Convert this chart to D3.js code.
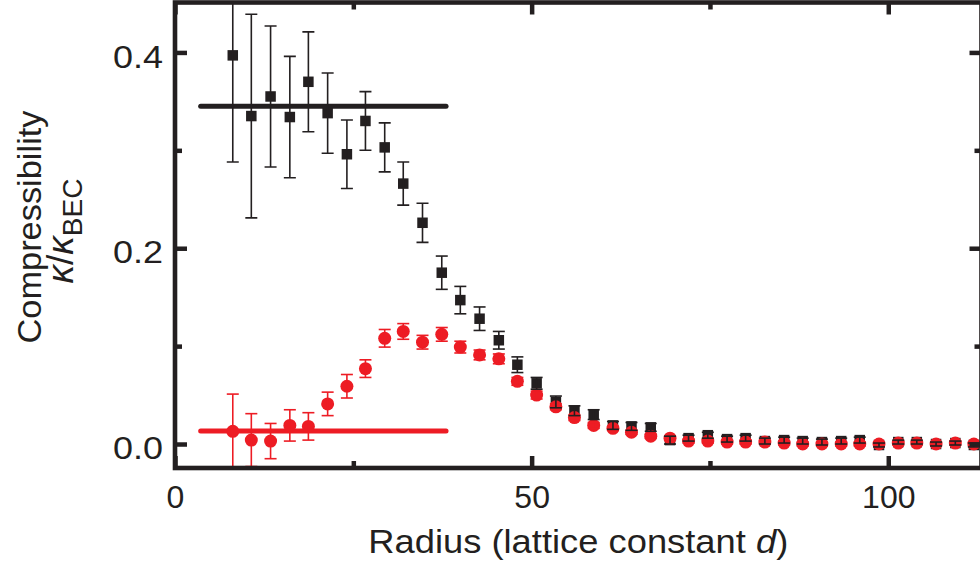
<!DOCTYPE html>
<html>
<head>
<meta charset="utf-8">
<script src="https://cdn.jsdelivr.net/npm/d3@7"></script>
<style>
  body { margin: 0; background: #fff; }
  svg { display: block; font-family: "Liberation Sans", Arial, Helvetica, sans-serif; }
</style>
</head>
<body>
<div id="chart"></div>
<script>
// radius bins (lattice constant d)
const radius = [8.1, 10.7, 13.4, 16.1, 18.7, 21.4, 24.1, 26.7, 29.4, 32.0,
    34.7, 37.4, 40.0, 42.7, 45.4, 48.0, 50.7, 53.4, 56.0, 58.7,
    61.4, 64.0, 66.7, 69.4, 72.0, 74.7, 77.4, 80.0, 82.7, 85.4,
    88.0, 90.7, 93.4, 96.0, 98.7, 101.4, 104.0, 106.7, 109.4, 112.0];

// black squares
const kappaSquare = [0.397, 0.335, 0.355, 0.334, 0.370, 0.338, 0.296, 0.330, 0.303, 0.266,
    0.226, 0.175, 0.147, 0.128, 0.106, 0.081, 0.062, 0.043, 0.034, 0.030,
    0.019, 0.018, 0.017, 0.004, 0.006, 0.009, 0.005, 0.006, 0.003, 0.004,
    0.003, 0.002, 0.003, 0.004, -0.001, 0.002, 0.002, 0.000, 0.001, -0.001];
const kappaSquareErr = [0.109, 0.104, 0.072, 0.062, 0.051, 0.041, 0.035, 0.030, 0.025, 0.022,
    0.020, 0.017, 0.014, 0.012, 0.009, 0.008, 0.006, 0.006, 0.005, 0.005,
    0.004, 0.004, 0.004, 0.004, 0.003, 0.003, 0.003, 0.003, 0.003, 0.003,
    0.003, 0.003, 0.003, 0.003, 0.002, 0.002, 0.002, 0.002, 0.002, 0.002];

// red circles
const kappaCircle = [0.013, 0.004, 0.003, 0.019, 0.018, 0.041, 0.059, 0.077, 0.108, 0.115,
    0.104, 0.112, 0.099, 0.091, 0.087, 0.064, 0.050, 0.038, 0.027, 0.019,
    0.016, 0.012, 0.008, 0.006, 0.003, 0.003, 0.002, 0.002, 0.002, 0.001,
    0.000, 0.000, 0.000, 0.000, 0.000, 0.001, 0.001, 0.000, 0.001, 0.000];
const kappaCircleErr = [0.038, 0.027, 0.018, 0.016, 0.014, 0.012, 0.012, 0.009, 0.009, 0.008,
    0.007, 0.007, 0.006, 0.005, 0.005, 0.004, 0.004, 0.003, 0.003, 0.003,
    0.002, 0.002, 0.002, 0.002, 0.002, 0.002, 0.002, 0.002, 0.002, 0.002,
    0.002, 0.002, 0.002, 0.002, 0.002, 0.002, 0.002, 0.002, 0.002, 0.002];

// flat reference levels (black, red) over the core region
const levelValues = [0.345, 0.0133];
const levelRange = [3.6, 38.0];

const xTicks = [0, 50, 100];
const xMinorTicks = [25, 75];
const yTicks = [0.0, 0.2, 0.4];
const yMinorTicks = [0.1, 0.3];

const COLORS = {
    ink: '#231f20',
    red: '#ed1c24'
};

const width = 980, height = 563;
const frame = { left: 175, right: 981.5, top: 2.5, bottom: 468 };

const svg = d3.select('#chart').append('svg')
    .attr('width', width)
    .attr('height', height);

svg.append('rect').attr('width', width).attr('height', height).attr('fill', '#fff');

const x = d3.scaleLinear().domain([0, 113.07]).range([frame.left, frame.right]);
const y = d3.scaleLinear().domain([-0.0245, 0.451]).range([frame.bottom, frame.top]);

svg.append('clipPath').attr('id', 'plotClip')
    .append('rect')
    .attr('x', frame.left).attr('y', frame.top)
    .attr('width', frame.right - frame.left).attr('height', frame.bottom - frame.top);

const plot = svg.append('g').attr('clip-path', 'url(#plotClip)');

// flat levels
plot.selectAll('.level')
    .data(levelValues)
    .enter()
    .append('line')
    .attr('class', 'level')
    .attr('x1', x(levelRange[0]))
    .attr('x2', x(levelRange[1]))
    .attr('y1', d => y(d))
    .attr('y2', d => y(d))
    .attr('stroke', (d, i) => i === 0 ? COLORS.ink : COLORS.red)
    .attr('stroke-width', 5)
    .attr('stroke-linecap', 'round');

const squares = radius.map((r, i) => ({ r: r, v: kappaSquare[i], e: kappaSquareErr[i] }));
const circles = radius.map((r, i) => ({ r: r, v: kappaCircle[i], e: kappaCircleErr[i] }));

const sq = 10.5;
plot.selectAll('.sq')
    .data(squares)
    .enter()
    .append('rect')
    .attr('class', 'sq')
    .attr('x', d => x(d.r) - sq / 2)
    .attr('y', d => y(d.v) - sq / 2)
    .attr('width', sq)
    .attr('height', sq)
    .attr('fill', COLORS.ink);

plot.selectAll('.dot')
    .data(circles)
    .enter()
    .append('circle')
    .attr('class', 'dot')
    .attr('cx', d => x(d.r))
    .attr('cy', d => y(d.v))
    .attr('r', 6.5)
    .attr('fill', COLORS.red);

function drawErrorBars (data, color, cls) {
    var cap = 6;
    var g = plot.selectAll('.' + cls)
        .data(data)
        .enter()
        .append('g')
        .attr('class', cls)
        .attr('stroke', color)
        .attr('stroke-width', 1.6);
    g.append('line')
        .attr('x1', d => x(d.r)).attr('x2', d => x(d.r))
        .attr('y1', d => y(d.v + d.e)).attr('y2', d => y(d.v - d.e));
    g.append('line')
        .attr('x1', d => x(d.r) - cap).attr('x2', d => x(d.r) + cap)
        .attr('y1', d => y(d.v + d.e)).attr('y2', d => y(d.v + d.e));
    g.append('line')
        .attr('x1', d => x(d.r) - cap).attr('x2', d => x(d.r) + cap)
        .attr('y1', d => y(d.v - d.e)).attr('y2', d => y(d.v - d.e));
}

drawErrorBars(circles, COLORS.red, 'errRed');
drawErrorBars(squares, COLORS.ink, 'errBlack');

// axes: inward ticks on all four sides
function styleAxis (g) {
    g.select('.domain').remove();
    g.selectAll('.tick line').attr('stroke', COLORS.ink).attr('stroke-width', 4.5);
    g.selectAll('.tick text')
        .attr('fill', COLORS.ink)
        .attr('font-family', '"Liberation Sans", Arial, Helvetica, sans-serif')
        .attr('font-size', 32);
}

svg.append('g')
    .attr('transform', 'translate(0,' + frame.bottom + ')')
    .call(d3.axisBottom(x).tickValues(xTicks).tickSize(-12).tickPadding(17).tickFormat(d3.format('d')))
    .call(styleAxis);
svg.append('g')
    .attr('transform', 'translate(0,' + frame.bottom + ')')
    .call(d3.axisBottom(x).tickValues(xMinorTicks).tickSize(-7).tickFormat(''))
    .call(styleAxis);
svg.append('g')
    .attr('transform', 'translate(0,' + frame.top + ')')
    .call(d3.axisTop(x).tickValues(xTicks).tickSize(-12).tickFormat(''))
    .call(styleAxis);
svg.append('g')
    .attr('transform', 'translate(0,' + frame.top + ')')
    .call(d3.axisTop(x).tickValues(xMinorTicks).tickSize(-7).tickFormat(''))
    .call(styleAxis);

svg.append('g')
    .attr('transform', 'translate(' + frame.left + ',0)')
    .call(d3.axisLeft(y).tickValues(yTicks).tickSize(-12).tickPadding(12).tickFormat(d3.format('.1f')))
    .call(styleAxis)
    .selectAll('.tick text')
    .attr('dy', '0.46em')
    .attr('textLength', 50)
    .attr('lengthAdjust', 'spacingAndGlyphs');
svg.append('g')
    .attr('transform', 'translate(' + frame.left + ',0)')
    .call(d3.axisLeft(y).tickValues(yMinorTicks).tickSize(-7).tickFormat(''))
    .call(styleAxis);
svg.append('g')
    .attr('transform', 'translate(' + frame.right + ',0)')
    .call(d3.axisRight(y).tickValues(yTicks).tickSize(-12).tickFormat(''))
    .call(styleAxis);
svg.append('g')
    .attr('transform', 'translate(' + frame.right + ',0)')
    .call(d3.axisRight(y).tickValues(yMinorTicks).tickSize(-7).tickFormat(''))
    .call(styleAxis);

// frame
svg.append('rect')
    .attr('x', frame.left)
    .attr('y', frame.top)
    .attr('width', frame.right - frame.left)
    .attr('height', frame.bottom - frame.top)
    .attr('fill', 'none')
    .attr('stroke', COLORS.ink)
    .attr('stroke-width', 4.6);

// axis titles
const xTitle = svg.append('text')
    .attr('x', (frame.left + frame.right) / 2)
    .attr('y', 553)
    .attr('text-anchor', 'middle')
    .attr('font-size', 33)
    .attr('fill', COLORS.ink)
    .attr('textLength', 420)
    .attr('lengthAdjust', 'spacingAndGlyphs');
xTitle.append('tspan').text('Radius (lattice constant ');
xTitle.append('tspan').attr('font-style', 'italic').text('d');
xTitle.append('tspan').text(')');

svg.append('text')
    .attr('transform', 'translate(41,227) rotate(-90)')
    .attr('text-anchor', 'middle')
    .attr('font-size', 34)
    .attr('fill', COLORS.ink)
    .attr('textLength', 233)
    .attr('lengthAdjust', 'spacingAndGlyphs')
    .text('Compressibility');

const kTitle = svg.append('text')
    .attr('transform', 'translate(73,231) rotate(-90)')
    .attr('text-anchor', 'middle')
    .attr('font-size', 37)
    .attr('fill', COLORS.ink);
kTitle.append('tspan').attr('font-style', 'italic').text('κ');
kTitle.append('tspan').text('/');
kTitle.append('tspan').attr('font-style', 'italic').text('κ');
kTitle.append('tspan').attr('font-size', 28).attr('dy', 9).text('BEC');
</script>
</body>
</html>
